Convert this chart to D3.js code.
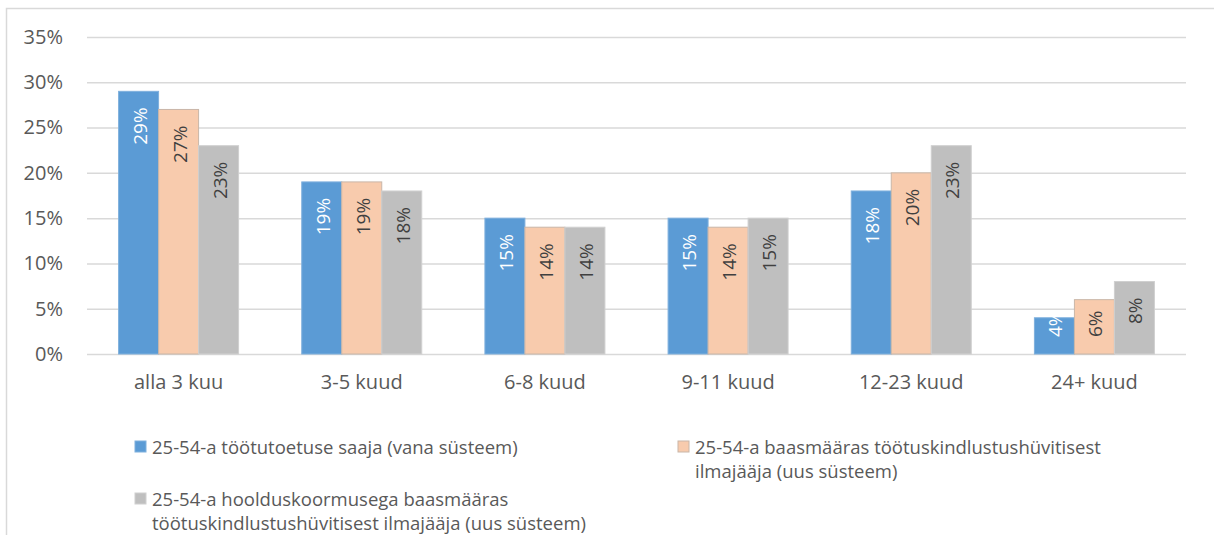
<!DOCTYPE html>
<html><head><meta charset="utf-8">
<script src="https://cdn.jsdelivr.net/npm/d3@7"></script>
<style>body{margin:0;background:#fff}svg{display:block}text{font-family:"Open Sans","Noto Sans",sans-serif}</style>
</head><body><svg id="c" width="1214" height="535"></svg>
<script>
const categories = ["alla 3 kuu","3-5 kuud","6-8 kuud","9-11 kuud","12-23 kuud","24+ kuud"];
const seriesNames = ["25-54-a töötutoetuse saaja (vana süsteem)","25-54-a baasmääras töötuskindlustushüvitisest ilmajääja (uus süsteem)","25-54-a hoolduskoormusega baasmääras töötuskindlustushüvitisest ilmajääja (uus süsteem)"];
const oldSystem = [29,19,15,15,18,4];
const baseRate = [27,19,14,14,20,6];
const careLoad = [23,18,14,15,23,8];
const yTicks = [0,5,10,15,20,25,30,35];
const colors = ["#5b9bd5","#f8cbad","#bfbfbf"];
const strokes = ["#7fb0dd","#c9b6a8","#d0d0d0"];
const labelColors = ["#ffffff","#404040","#404040"];
const series = [oldSystem, baseRate, careLoad];

const svg = d3.select("#c");
svg.append("path").attr("d","M6.5,535 V8.5 H1214").attr("fill","none").attr("stroke","#d9d9d9").attr("stroke-width",1.5);

const x0 = d3.scaleBand().domain(categories).range([87,1186]).paddingInner(0).paddingOuter(0);
const y = d3.scaleLinear().domain([0,35]).range([354,37]);
const x1 = d3.scaleBand().domain([0,1,2]).range([0,120]);
const groupOff = (x0.bandwidth()-120)/2;

const yAxis = d3.axisLeft(y).tickValues(yTicks).tickFormat(d=>d+"%").tickSize(-(1186-87)).tickPadding(24);
const ga = svg.append("g").attr("transform","translate(87,0)").call(yAxis);
ga.select(".domain").remove();
ga.selectAll(".tick line").attr("stroke","#d9d9d9").attr("stroke-width",1.5);
ga.selectAll(".tick text").attr("fill","#595959").style("font-size","20px");

const xAxis = d3.axisBottom(x0).tickSize(0).tickPadding(21);
const gx = svg.append("g").attr("transform","translate(0,354)").call(xAxis);
gx.select(".domain").remove();
gx.selectAll(".tick text").attr("fill","#595959").style("font-size","20px");

series.forEach((vals,si)=>{
  const g = svg.append("g");
  g.selectAll("rect").data(vals).join("rect")
    .attr("x",(d,i)=>x0(categories[i])+groupOff+x1(si))
    .attr("y",d=>y(d))
    .attr("width",x1.bandwidth())
    .attr("height",d=>y(0)-y(d))
    .attr("fill",colors[si]).attr("stroke",strokes[si]).attr("stroke-width",1);
  g.selectAll("text").data(vals).join("text")
    .attr("text-anchor","end")
    .attr("fill",labelColors[si]).style("font-size","19px")
    .text(d=>d+"%")
    .attr("transform",function(d,i){
      const cx = x0(categories[i])+groupOff+x1(si)+x1.bandwidth()/2;
      const L = this.getComputedTextLength();
      const top = Math.min(y(d)+16, y(0)-17-L);
      return `translate(${cx+8},${top}) rotate(-90)`;
    });
});

const leg = [
  {x:135,y:441,lines:[seriesNames[0]]},
  {x:678,y:441,lines:["25-54-a baasmääras töötuskindlustushüvitisest","ilmajääja (uus süsteem)"]},
  {x:135,y:493,lines:["25-54-a hoolduskoormusega baasmääras","töötuskindlustushüvitisest ilmajääja (uus süsteem)"]}
];
leg.forEach((l,i)=>{
  svg.append("rect").attr("x",l.x).attr("y",l.y).attr("width",11).attr("height",11)
    .attr("fill",colors[i]).attr("stroke",strokes[i]);
  const t = svg.append("text").attr("y",l.y+13).attr("fill","#595959").style("font-size","18.5px");
  l.lines.forEach((ln,j)=>t.append("tspan").attr("x",l.x+17).attr("dy",j?24:0).text(ln));
});
</script></body></html>
